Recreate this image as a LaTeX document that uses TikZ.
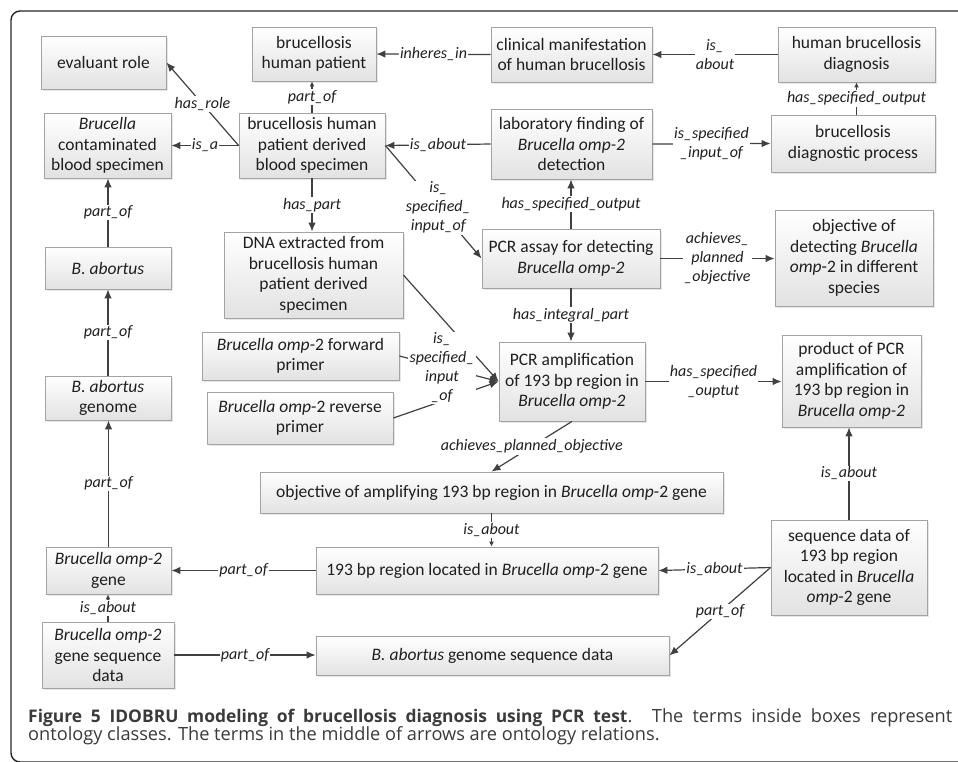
\documentclass[tikz,border=0pt]{standalone}
\usepackage{fontspec}
\setmainfont{Carlito}
\newfontfamily\capfont{Open Sans}
\usetikzlibrary{arrows.meta,shadows}
\definecolor{boxline}{HTML}{A3A3A3}
\definecolor{boxlow}{HTML}{E2E2E2}
\definecolor{conn}{HTML}{404040}
\definecolor{captxt}{HTML}{3A3A3A}
\begin{document}
\begin{tikzpicture}[x=1pt,y=-1pt,
  box/.style={draw=boxline, line width=0.8pt, top color=white, bottom color=boxlow,
    align=center, inner sep=0pt, text=black!88,
    font=\fontsize{17.5}{20.5}\selectfont,
    drop shadow={shadow xshift=1.6pt, shadow yshift=-1.6pt, opacity=0.2}},
  sz/.style 2 args={minimum width=#1pt, minimum height=#2pt},
  rel/.style={draw=conn, line width=1.2pt, -{Latex[length=9pt,width=7.5pt]}},
  relshort/.style={draw=conn, line width=1.2pt, -{Latex[length=5pt,width=5pt]}},
  lbl/.style={fill=white, inner sep=1.2pt, align=center, text=black!88,
    font=\fontsize{16}{19}\selectfont\itshape},
  captext/.style={anchor=base west, inner sep=0pt, text=captxt,
    font=\capfont\fontsize{18.2}{18}\selectfont},
]
\useasboundingbox (0,0) rectangle (958,761);

% outer frame, open to the right and cut at the bottom
\begin{scope}
  \clip (0,0) rectangle (958,761);
  \draw[line width=1.4pt, black!85, rounded corners=9pt] (11,11) rectangle (990,762);
\end{scope}

% ontology classes
\node[box, sz={125}{53}] (role) at (103.5,62.5) {evaluant role};
\node[box, sz={127}{65}] (contam) at (107.5,145.5) {\textit{Brucella}\\contaminated\\blood specimen};
\node[box, sz={124}{54}] (patient) at (314,54) {brucellosis\\human patient};
\node[box, sz={146}{65}] (blood) at (312,145.5) {brucellosis human\\patient derived\\blood specimen};
\node[box, sz={179}{86}] (dna) at (313.5,275) {DNA extracted from\\brucellosis human\\patient derived\\specimen};
\node[box, sz={161}{55}] (clinical) at (571.5,54.5) {clinical manifestation\\of human brucellosis};
\node[box, sz={157}{55}] (diag) at (856.5,54.5) {human brucellosis\\diagnosis};
\node[box, sz={161}{70}] (labfind) at (571.5,144) {laboratory finding of\\\textit{Brucella omp-2}\\detection};
\node[box, sz={164}{57}] (dproc) at (853,143.5) {brucellosis\\diagnostic process};
\node[box, sz={178}{59}] (assay) at (571,258.5) {PCR assay for detecting\\\textit{Brucella omp-2}};
\node[box, sz={158}{96}] (objdet) at (854,258) {objective of\\detecting \textit{Brucella}\\\textit{omp}-2 in different\\species};
\node[box, sz={146}{79}] (amp) at (572,381.5) {PCR amplification\\of 193 bp region in\\\textit{Brucella omp-2}};
\node[box, sz={139}{92}] (product) at (851.5,381) {product of PCR\\amplification of\\193 bp region in\\\textit{Brucella omp-2}};
\node[box, sz={197}{48}] (fwd) at (300.5,356) {\textit{Brucella omp}-2 forward\\primer};
\node[box, sz={186}{52}] (rev) at (300,418) {\textit{Brucella omp}-2 reverse\\primer};
\node[box, sz={463}{41}] (objamp) at (491.5,492.5) {objective of amplifying 193 bp region in \textit{Brucella omp}-2 gene};
\node[box, sz={342}{47}] (region) at (487,570.5) {193 bp region located in \textit{Brucella omp}-2 gene};
\node[box, sz={156}{95}] (seqdata) at (849,567.5) {sequence data of\\193 bp region\\located in \textit{Brucella}\\\textit{omp}-2 gene};
\node[box, sz={353}{39}] (genomeseq) at (492.5,655.5) {\textit{B. abortus} genome sequence data};
\node[box, sz={126}{42}] (babort) at (108,268) {\textit{B. abortus}};
\node[box, sz={126}{44}] (genome) at (108,398) {\textit{B. abortus}\\genome};
\node[box, sz={125}{47}] (gene) at (108.5,570.5) {\textit{Brucella omp-2}\\gene};
\node[box, sz={132}{66}] (geneseq) at (108,655) {\textit{Brucella omp-2}\\gene sequence\\data};

% relations
\draw[rel] (blood.west) -- node[lbl] (l-role) {has\_role} (role.east);
\draw[rel] (blood.west) -- node[lbl] (l-isa) {is\_a} (contam.east);
\draw[relshort] (blood.north) -- node[lbl] (l-pat) {part\_of} (blood.north |- patient.south);
\draw[rel] (blood.south) -- node[lbl] (l-haspart) {has\_part} (blood.south |- dna.north);
\draw[rel] (blood.east) -- node[lbl, pos=0.55] (l-in1) {is\_\\specified\_\\input\_of} (assay.west);
\draw[rel] (labfind.west) -- node[lbl] (l-about1) {is\_about} (blood.east);
\draw[rel] (clinical.west) -- node[lbl] (l-inh) {inheres\_in} (patient.east);
\draw[rel] (diag.west) -- node[lbl] (l-about2) {is\_\\about} (clinical.east);
\draw[relshort] (diag.south |- dproc.north) -- node[lbl] (l-out1) {has\_specified\_output} (diag.south);
\draw[rel] (labfind.east) -- node[lbl] (l-in2) {is\_specified\\\_input\_of} (dproc.west);
\draw[rel] (assay.north) -- node[lbl] (l-out2) {has\_specified\_output} (assay.north |- labfind.south);
\draw[rel] (assay.east) -- node[lbl] (l-ach1) {achieves\_\\planned\\\_objective} (assay.east -| objdet.west);
\draw[rel] (assay.south) -- node[lbl] (l-integ) {has\_integral\_part} (assay.south |- amp.north);
\draw[rel] (amp.east) -- node[lbl] (l-out3) {has\_specified\\\_ouptut} (amp.east -| product.west);
\draw[rel] (amp.south) -- node[lbl] (l-ach2) {achieves\_planned\_objective} (objamp.north);
\draw[rel] (dna.east) -- (amp.west);
\draw[rel] (fwd.east) -- (amp.west);
\draw[rel] (rev.east) -- (amp.west);
\node[lbl] (l-in3) at (442,368) {is\_\\specified\_\\input\\\_of};
\draw[relshort] (objamp.south) -- node[lbl] (l-about3) {is\_about} (objamp.south |- region.north);
\draw[rel] (seqdata.west) -- node[lbl] (l-about4) {is\_about} (region.east);
\draw[rel] (seqdata.west) -- node[lbl] (l-part1) {part\_of} (genomeseq.east);
\draw[rel] (seqdata.north) -- node[lbl] (l-about5) {is\_about} (seqdata.north |- product.south);
\draw[rel] (region.west) -- node[lbl] (l-part2) {part\_of} (region.west -| gene.east);
\draw[rel] (geneseq.east) -- node[lbl] (l-part3) {part\_of} (geneseq.east -| genomeseq.west);
\draw[relshort] (geneseq.north) -- node[lbl] (l-about6) {is\_about} (geneseq.north |- gene.south);
\draw[rel] (gene.north) -- node[lbl] (l-part4) {part\_of} (gene.north |- genome.south);
\draw[rel] (genome.north) -- node[lbl] (l-part5) {part\_of} (genome.north |- babort.south);
\draw[rel] (babort.north) -- node[lbl] (l-part6) {part\_of} (babort.north |- contam.south);

% caption
\node[captext] (cap1) at (28,722)
  {\makebox[924pt][s]{{\fontsize{17.4}{18}\selectfont\bfseries Figure 5 IDOBRU modeling of brucellosis diagnosis using PCR test}. The terms inside boxes represent}};
\node[captext] (cap2) at (28,740)
  {ontology classes. The terms in the middle of arrows are ontology relations.};
\end{tikzpicture}
\end{document}
